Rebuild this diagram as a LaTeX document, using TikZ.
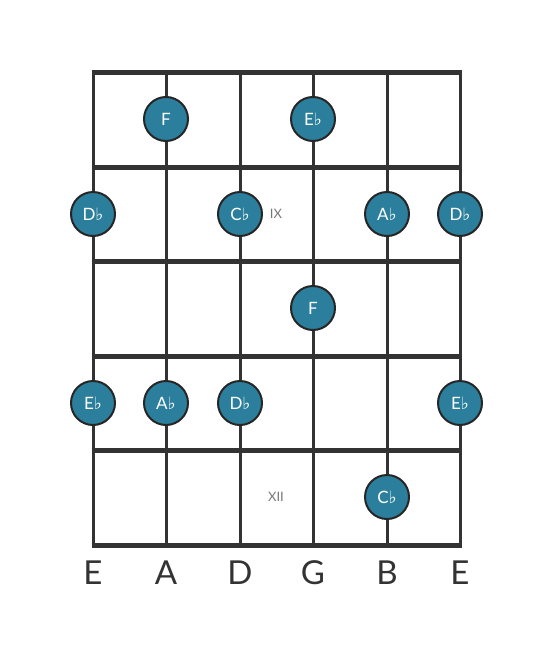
\documentclass[tikz,border=0pt]{standalone}
\usepackage{fontspec}
\setmainfont{Lato}
\newfontfamily\symfont{DejaVu Sans}
\definecolor{linec}{HTML}{333333}
\definecolor{notec}{HTML}{2B7F9C}
\definecolor{labc}{HTML}{777777}
\newcommand{\fl}{{\symfont\char"266D}}
\begin{document}
\begin{tikzpicture}[x=1pt,y=-1pt,
  fretline/.style={draw=linec,line width=5pt},
  stringline/.style={draw=linec,line width=3pt},
  note/.style={circle,fill=notec,draw=black!85,line width=2pt,minimum size=44pt,inner sep=0pt,text=white,font=\fontsize{17}{17}\selectfont},
  strlab/.style={text=linec,font=\fontsize{33}{33}\selectfont,inner sep=0pt},
  fretlab/.style={text=labc,font=\fontsize{13}{13}\selectfont,inner sep=0pt}]
\useasboundingbox (0,0) rectangle (553,656);
% strings
\foreach \x/\n in {93/s1,166/s2,240/s3,313/s4,387/s5,460/s6}{
  \coordinate (\n t) at (\x,72);
  \coordinate (\n b) at (\x,545);
  \draw[stringline] (\n t) -- (\n b);
}
% frets
\foreach \y/\n in {72/f0,167/f1,261/f2,356/f3,450/f4,545/f5}{
  \coordinate (\n l) at (93,\y);
  \coordinate (\n r) at (460,\y);
  \draw[fretline] ([xshift=-1.5pt]\n l) -- ([xshift=1.5pt]\n r);
}
% notes
\node[note] (n1) at (166,119) {F};
\node[note] (n2) at (313,119) {E\fl};
\node[note] (n3) at (93,214) {D\fl};
\node[note] (n4) at (240,214) {C\fl};
\node[note] (n5) at (387,214) {A\fl};
\node[note] (n6) at (460,214) {D\fl};
\node[note] (n7) at (313,308) {F};
\node[note] (n8) at (93,403) {E\fl};
\node[note] (n9) at (166,403) {A\fl};
\node[note] (n10) at (240,403) {D\fl};
\node[note] (n11) at (460,403) {E\fl};
\node[note] (n12) at (387,497) {C\fl};
% fret labels
\node[fretlab] (ix) at (276,214) {IX};
\node[fretlab] (xii) at (276,497) {XII};
% string labels
\foreach \x/\t/\n in {93/E/l1,166/A/l2,240/D/l3,313/G/l4,387/B/l5,460/E/l6}{
  \node[strlab] (\n) at (\x,573) {\t};
}
\end{tikzpicture}
\end{document}
